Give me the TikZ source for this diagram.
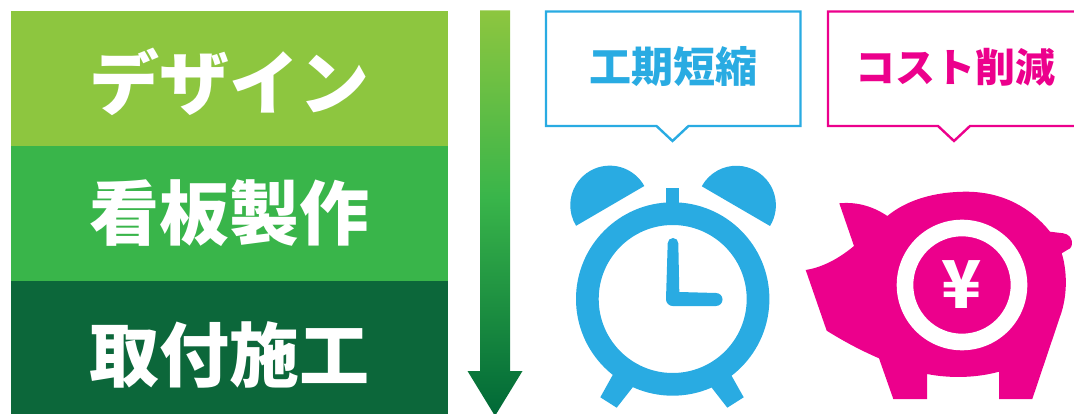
\documentclass[tikz,border=0pt]{standalone}
\usepackage{fontspec}
\newfontfamily\cjk{Noto Sans CJK JP}[BoldFont={Noto Sans CJK JP Black}]
\definecolor{gA}{HTML}{8DC63F}
\definecolor{gB}{HTML}{39B54A}
\definecolor{gC}{HTML}{0C673A}
\definecolor{gD}{HTML}{006837}
\definecolor{cblue}{HTML}{29ABE2}
\definecolor{cpink}{HTML}{EC008C}
\pgfdeclareverticalshading{arrowgrad}{100bp}{color(0bp)=(gD); color(25bp)=(gD); color(52bp)=(gB); color(75bp)=(gA); color(100bp)=(gA)}
\tikzset{
  band/.style={fill=#1,draw=none},
  bandtext/.style={text=white,font=\cjk\bfseries\fontsize{70}{70}\selectfont,inner sep=0pt,anchor=center},
  calltext/.style={text=#1,font=\cjk\bfseries\fontsize{42}{42}\selectfont,inner sep=0pt,anchor=center},
  calltextb/.style={text=#1,font=\cjk\bfseries\fontsize{40}{40}\selectfont,inner sep=0pt,anchor=center},
  callbox/.style={draw=#1,line width=2.4pt,fill=white,miter limit=10},
}
\begin{document}
\begin{tikzpicture}[x=1pt,y=1pt]
\useasboundingbox (0,0) rectangle (1074,-414);
\clip (0,0) rectangle (1074,-414);
% bands
\fill[band=gA] (11,-11) rectangle (448,-146);
\fill[band=gB] (11,-146) rectangle (448,-281);
\fill[band=gC] (11,-281) rectangle (448,-414);
\node[bandtext] (t1) at (229.5,-82) {デザイン};
\node[bandtext] (t2) at (229.5,-213) {看板製作};
\node[bandtext] (t3) at (229.5,-355) {取付施工};
% arrow
\shade[shading=arrowgrad]
  (480,-10.5) -- (510,-10.5) -- (510,-371) -- (522.5,-371) -- (495,-416) -- (467.5,-371) -- (480,-371) -- cycle;
% callouts
\draw[callbox=cblue] (546,-11.5) -- (800.5,-11.5) -- (800.5,-126) -- (688.5,-126) -- (672.5,-141) -- (656.5,-126) -- (546,-126) -- cycle;
\node[calltext=cblue] (c1) at (673,-67) {工期短縮};
\draw[callbox=cpink] (1080,-11.5) -- (828,-11.5) -- (828,-126) -- (938,-126) -- (954,-141) -- (970,-126) -- (1080,-126);
\node[calltextb=cpink] (c2) at (955.5,-67) {コスト削減};
% clock
\fill[cblue] (644.3,-186) arc[start angle=29,end angle=211.5,radius=39.5] -- cycle;
\fill[cblue] (770,-226) arc[start angle=-31.7,end angle=151.3,radius=39.5] -- cycle;
\fill[cblue] (666,-188.3) rectangle (679.3,-210);
\fill[cblue] (612.7,-375) -- (600.3,-397.3) -- (616.7,-407.7) -- (632.7,-387.3) -- (640,-370) -- cycle;
\fill[cblue] (731.7,-376) -- (743.7,-397.3) -- (727.3,-407.7) -- (711.7,-387.7) -- (705,-370) -- cycle;
\fill[cblue,even odd rule] (672.7,-299) circle[radius=96.7] (672.7,-299) circle[radius=74];
\fill[cblue] (666,-299.3) -- (667.7,-243.3) arc[start angle=180,end angle=0,radius=5.3] -- (679.3,-292) -- (716,-293)
  arc[start angle=90,end angle=-90,radius=6.5] -- (672.7,-306) arc[start angle=270,end angle=180,radius=6.7] -- cycle;
% pig
\fill[cpink] (839.3,-203.3) .. controls (858,-201.5) and (874,-207) .. (887.3,-216)
  .. controls (908,-199) and (936,-192) .. (965,-191.7)
  .. controls (1003,-191.5) and (1031,-208) .. (1050,-231.7)
  -- (1063.3,-233.3) .. controls (1074,-235) and (1074,-248) .. (1068,-249.5) -- (1061.7,-253.3)
  .. controls (1067,-270) and (1068,-295) .. (1060,-316.7)
  -- (1032.3,-399) -- (999,-399) -- (999,-371.7)
  .. controls (976,-378) and (950,-378.5) .. (927,-374)
  -- (927,-399) -- (893.3,-399) -- (879,-358.3)
  .. controls (860,-350) and (845,-342) .. (826.7,-330.7)
  -- (805.7,-270) .. controls (825,-267) and (842,-256) .. (854,-246) -- cycle;
\fill[white,even odd rule] (962,-285) circle[radius=65.3] (962,-285) circle[radius=48.7];
\node[text=white,font=\cjk\bfseries\fontsize{66}{66}\selectfont,inner sep=0pt] (yen) at (962,-285) {¥};
\end{tikzpicture}
\end{document}
